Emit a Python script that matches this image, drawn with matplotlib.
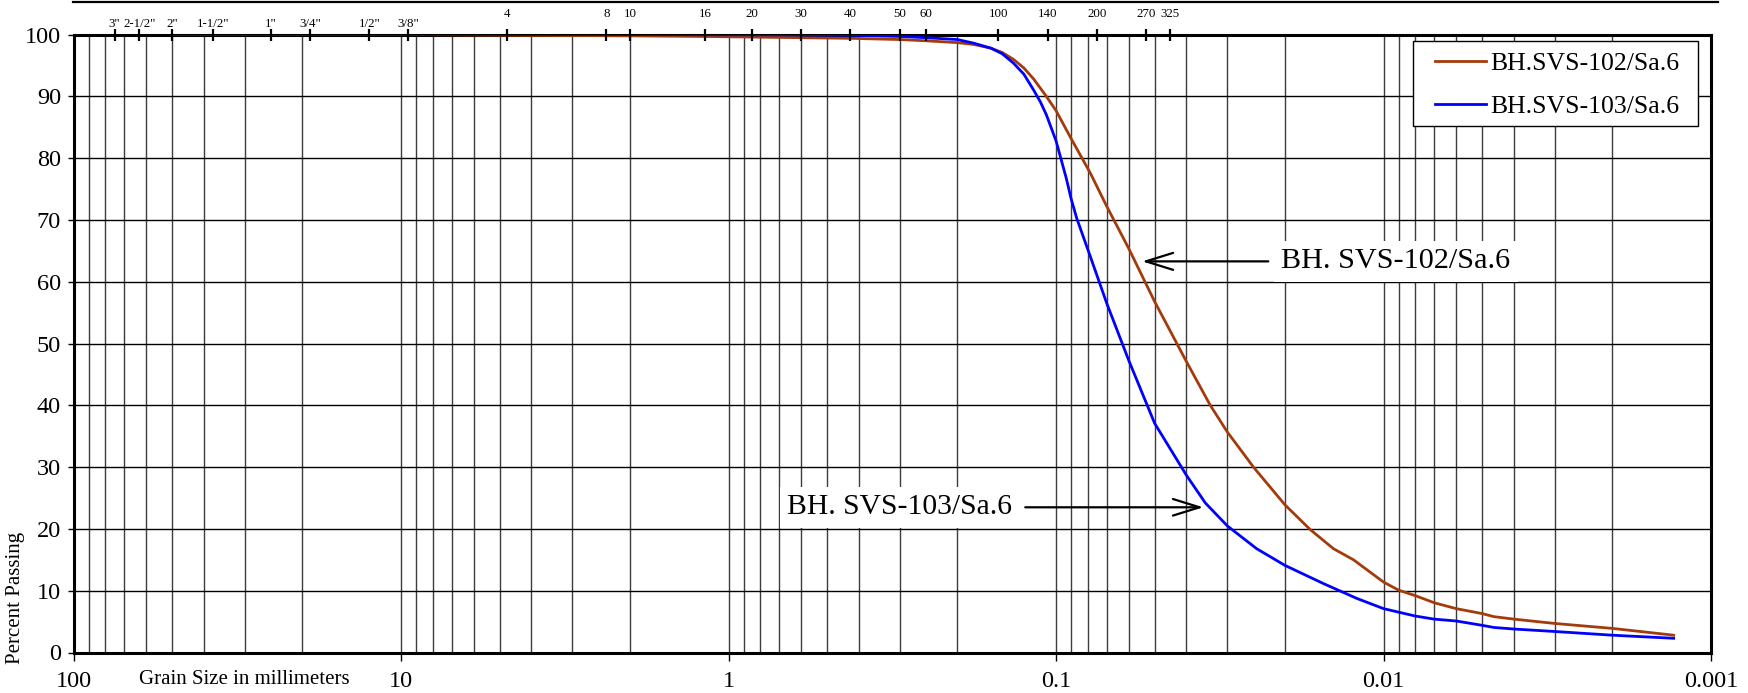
import matplotlib
matplotlib.use('Agg')
import matplotlib.pyplot as plt
from matplotlib.lines import Line2D
from matplotlib.patches import Rectangle
from matplotlib.ticker import LogLocator, NullFormatter

plt.rcParams['font.family'] = ['Liberation Serif', 'DejaVu Serif']

# grain size (mm) and percent passing
size_102 = [50, 9.5, 4.75, 2.0, 1.18, 0.85, 0.6, 0.425, 0.3, 0.25, 0.2, 0.178, 0.158, 0.146,
            0.135, 0.1254, 0.117, 0.1077, 0.1, 0.09, 0.0786, 0.07, 0.06, 0.05, 0.04, 0.0338,
            0.03, 0.02495, 0.02, 0.01675, 0.01422, 0.01235, 0.01, 0.009, 0.008, 0.007, 0.006,
            0.005, 0.0046, 0.004, 0.003, 0.002, 0.0013]
pass_102 = [100, 100, 99.9, 99.8, 99.7, 99.6, 99.5, 99.4, 99.2, 99.0, 98.7, 98.4, 97.8, 97.1,
            96.0, 94.6, 92.8, 90.2, 87.7, 83.2, 77.6, 72.2, 65.4, 56.8, 47.1, 40.0,
            35.7, 30.0, 23.9, 19.9, 16.8, 15.0, 11.4, 10.1, 9.2, 8.05, 7.1,
            6.3, 5.8, 5.4, 4.7, 3.9, 2.8]

size_103 = [50, 4.75, 2.0, 0.6, 0.425, 0.3, 0.25, 0.2, 0.178, 0.158, 0.146, 0.135, 0.1254,
            0.117, 0.1116, 0.107, 0.1, 0.093, 0.09, 0.0865, 0.0786, 0.07, 0.06, 0.05, 0.04,
            0.035, 0.03, 0.0244, 0.02, 0.01525, 0.01206, 0.01, 0.008, 0.007, 0.006, 0.005,
            0.0046, 0.004, 0.003, 0.002, 0.0013]
pass_103 = [100, 100, 100, 99.95, 99.9, 99.7, 99.5, 99.2, 98.6, 97.8, 96.9, 95.4, 93.6,
            91.0, 89.1, 87.0, 82.8, 76.7, 73.5, 70.3, 64.1, 56.5, 47.3, 37.1, 28.7,
            24.2, 20.5, 16.8, 14.1, 11.15, 8.75, 7.1, 5.9, 5.4, 5.1, 4.4,
            4.05, 3.8, 3.4, 2.8, 2.3]

# sieve openings (mm) shown along the top
inch_sizes = [75, 63, 50, 37.5, 25, 19, 12.5, 9.5]
inch_labels = ['3"', '2-1/2"', '2"', '1-1/2"', '1"', '3/4"', '1/2"', '3/8"']
mesh_sizes = [4.75, 2.36, 2.0, 1.18, 0.85, 0.6, 0.425, 0.3, 0.25, 0.15, 0.106, 0.075, 0.053, 0.045]
mesh_labels = ['4', '8', '10', '16', '20', '30', '40', '50', '60', '100', '140', '200', '270', '325']

x_ticks = [100, 10, 1, 0.1, 0.01, 0.001]
x_ticklabels = ['100', '10', '1', '0.1', '0.01', '0.001']

W, H = 1749, 693
fig = plt.figure(figsize=(W / 100, H / 100), dpi=100)
ax = fig.add_axes([73.6 / W, (H - 652.5) / H, (1711 - 73.6) / W, (652.5 - 34.6) / H])

ax.set_xscale('log')
ax.set_xlim(100, 0.001)
ax.set_ylim(0, 100)

ax.xaxis.set_minor_locator(LogLocator(base=10, subs=range(2, 10), numticks=20))
ax.xaxis.set_minor_formatter(NullFormatter())
ax.set_xticks(x_ticks)
ax.set_xticklabels(x_ticklabels)
ax.set_yticks(range(0, 101, 10))

ax.grid(which='both', axis='x', color='#3c3c3c', lw=1.0)
ax.grid(which='major', axis='y', color='black', lw=1.0)
ax.set_axisbelow(True)

ax.tick_params(axis='x', which='major', direction='out', length=6, width=1, labelsize=17.5, pad=7)
ax.tick_params(axis='x', which='minor', length=0)
ax.tick_params(axis='y', direction='out', length=4, width=1, labelsize=17.5, pad=5)
for s in ax.spines.values():
    s.set_linewidth(2.2)

ax.plot(size_102, pass_102, color='#A33B0C', lw=2.0, label='BH.SVS-102/Sa.6', zorder=3)
ax.plot(size_103, pass_103, color='#0000FF', lw=2.0, label='BH.SVS-103/Sa.6', zorder=3)

# sieve marks on the top line
ax.plot(inch_sizes + mesh_sizes, [100] * (len(inch_sizes) + len(mesh_sizes)), '|',
        color='black', ms=9, mew=1.6, clip_on=False, zorder=5)
top = ax.get_xaxis_transform()
for s, lab in zip(inch_sizes, inch_labels):
    ax.text(s, 1.0165, lab, transform=top, ha='center', va='center', fontsize=9.3)
for s, lab in zip(mesh_sizes, mesh_labels):
    ax.text(s, 1.034, lab, transform=top, ha='center', va='center', fontsize=9.3)

# legend box drawn separately so the side padding can be wider than the top one
ax.add_patch(Rectangle((0.818, 0.852), 0.992 - 0.818, 0.989 - 0.852, transform=ax.transAxes,
                       fc='white', ec='black', lw=1.0, zorder=6))
leg = ax.legend(loc='center left', bbox_to_anchor=(0.8315, 0.9185), borderaxespad=0,
                borderpad=0, fontsize=18.5, frameon=False, handlelength=2.0,
                handletextpad=0.15, labelspacing=0.75)
leg.set_zorder(7)

arrow = dict(arrowstyle='->,head_length=0.9,head_width=0.28', color='black', lw=1.6,
             shrinkA=4, shrinkB=0)
box = dict(boxstyle='square,pad=0.25', fc='white', ec='none')
ax.annotate('BH. SVS-102/Sa.6', xy=(0.0546, 63.3), xytext=(0.0205, 63.3),
            ha='left', va='center', fontsize=21.8, bbox=box, arrowprops=arrow, zorder=6)
ax.annotate('BH. SVS-103/Sa.6', xy=(0.0355, 23.5), xytext=(0.136, 23.5),
            ha='right', va='center', fontsize=21.3, bbox=box, arrowprops=arrow, zorder=6)

fig.text(16 / W, 1 - 598 / H, 'Percent Passing', rotation=90, ha='center', va='center',
         fontsize=15)
fig.text(244.5 / W, 1 - 680 / H, 'Grain Size in millimeters', ha='center', va='center',
         fontsize=15)
fig.add_artist(Line2D([73 / W, 1718 / W], [1 - 2 / H, 1 - 2 / H], color='black', lw=1.6))

fig.savefig('out.png', dpi=100)
